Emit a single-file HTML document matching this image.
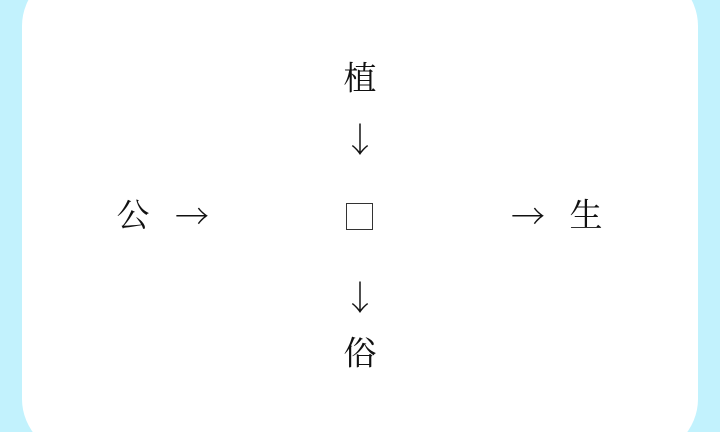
<!DOCTYPE html>
<html><head><meta charset="utf-8"><style>
html,body{margin:0;padding:0;width:720px;height:432px;overflow:hidden}
body{background:#c2f2fd;position:relative;font-family:"Liberation Serif","Noto Serif CJK SC",serif;color:#111}
.wrap{position:absolute;left:0;top:0;width:720px;height:432px;overflow:hidden}
.card{position:absolute;left:22px;top:-30px;width:676px;height:485px;background:#fff;border-radius:56px}
.t{position:absolute;font-size:33px;line-height:1;transform:translate(-50%,-50%);white-space:nowrap}
.a{font-family:"Noto Serif CJK SC","Noto Sans CJK SC",serif;font-size:34px}
.box{position:absolute;left:346px;top:203px;width:25px;height:25px;border:1.5px solid #333}
</style></head><body>
<div class="wrap">
<div class="card"></div>
<span class="t" style="left:360px;top:80px">植</span>
<span class="t a" style="left:360px;top:138px">↓</span>
<span class="t" style="left:133px;top:217px">公</span>
<span class="t a" style="left:192px;top:215px">→</span>
<div class="box"></div>
<span class="t a" style="left:528px;top:215px">→</span>
<span class="t" style="left:586px;top:217px">生</span>
<span class="t a" style="left:360px;top:296px">↓</span>
<span class="t" style="left:360px;top:355px">俗</span>
</div>
</body></html>
